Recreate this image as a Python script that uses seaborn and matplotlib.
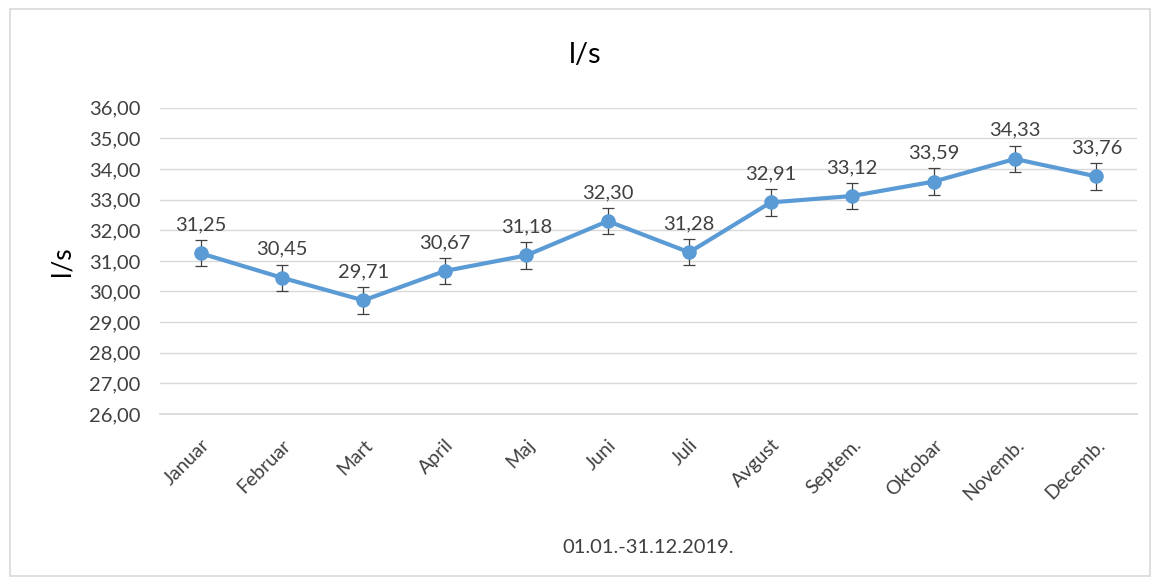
import numpy as np
import pandas as pd
import matplotlib
matplotlib.use('Agg')
import matplotlib.pyplot as plt
import seaborn as sns
from matplotlib.patches import Rectangle

months = ['Januar', 'Februar', 'Mart', 'April', 'Maj', 'Juni', 'Juli',
          'Avgust', 'Septem.', 'Oktobar', 'Novemb.', 'Decemb.']
flow = [31.25, 30.45, 29.71, 30.67, 31.18, 32.30, 31.28,
        32.91, 33.12, 33.59, 34.33, 33.76]
flow_err = [0.43] * 12
yticks = [26, 27, 28, 29, 30, 31, 32, 33, 34, 35, 36]

sns.set_theme(style='white')
plt.rcParams['font.family'] = ['Lato', 'DejaVu Sans']

df = pd.DataFrame({'month': months, 'flow': flow, 'err': flow_err})
df['pos'] = np.arange(len(df))

fig = plt.figure(figsize=(11.58, 5.83), dpi=100)
ax = fig.add_axes([0.138, 0.290, 0.844, 0.525])

line_col = '#5B9BD5'
ax.errorbar(df['pos'], df['flow'], yerr=df['err'], fmt='none',
            ecolor='#404040', elinewidth=0.9, capsize=4, capthick=0.9, zorder=2)
sns.lineplot(data=df, x='pos', y='flow', color=line_col, linewidth=3,
             marker='o', markersize=10.5, markeredgewidth=0, ax=ax, zorder=3)

for x, y, e in zip(df['pos'], df['flow'], df['err']):
    ax.annotate(f'{y:.2f}'.replace('.', ','), (x, y + e), xytext=(0, 5),
                textcoords='offset points', ha='center', va='bottom',
                fontsize=14.5, color='#404040')

ax.set_xlim(-0.5, len(months) - 0.5)
ax.set_ylim(26, 36)
ax.set_yticks(yticks)
ax.set_yticklabels([f'{t:.2f}'.replace('.', ',') for t in yticks],
                   fontsize=14.5, color='#404040')
ax.set_xticks(df['pos'])
ax.set_xticklabels(months, rotation=45, ha='right', rotation_mode='anchor',
                   fontsize=14, color='#404040')
ax.tick_params(axis='both', length=0)
ax.tick_params(axis='x', pad=16)
ax.tick_params(axis='y', pad=14)
ax.grid(axis='y', color='#D9D9D9', linewidth=1)
for s in ['top', 'right', 'left']:
    ax.spines[s].set_visible(False)
ax.spines['bottom'].set_color('#D9D9D9')
ax.set_axisbelow(True)

ax.set_xlabel('01.01.-31.12.2019.', fontsize=14.5, color='#404040', labelpad=26)
ax.set_ylabel('l/s', fontsize=19, color='#000000', labelpad=10)
fig.text(0.505, 0.905, 'l/s', ha='center', va='center', fontsize=21, color='#000000')

fig.patches.append(Rectangle((0.009, 0.012), 0.984, 0.973, transform=fig.transFigure,
                             fill=False, edgecolor='#D9D9D9', linewidth=1.2))

fig.savefig('out.png', dpi=100, facecolor='white')
